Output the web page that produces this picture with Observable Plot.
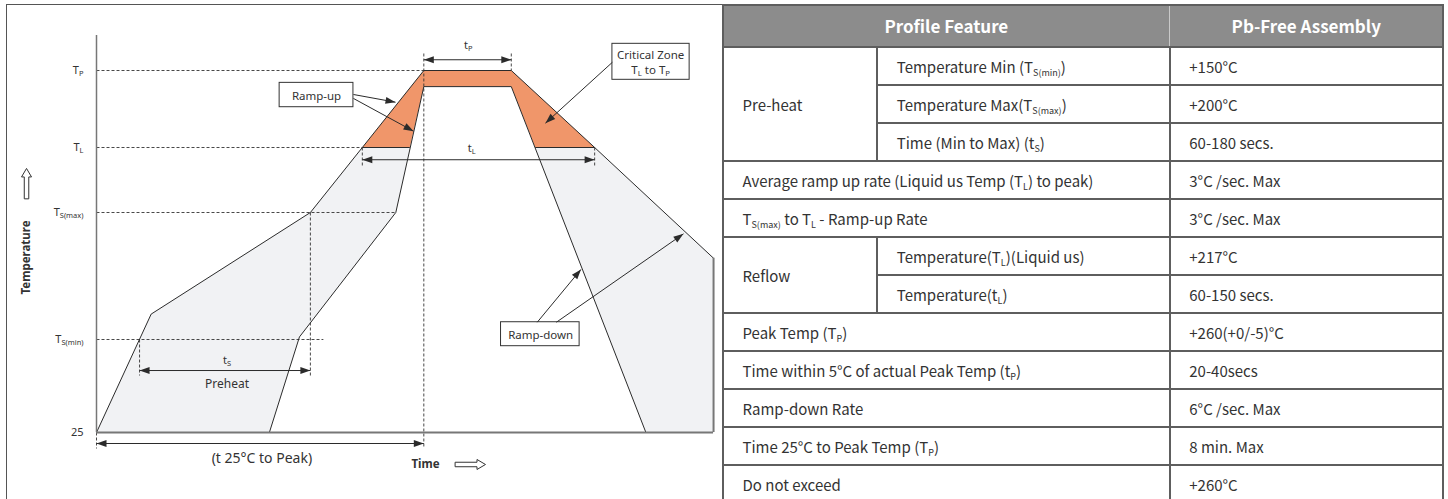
<!DOCTYPE html>
<html><head><meta charset="utf-8">
<script src="https://cdn.jsdelivr.net/npm/d3@7"></script>
<script src="https://cdn.jsdelivr.net/npm/@observablehq/plot@0.6"></script>
<style>
html,body{margin:0;padding:0;background:#fff;width:1448px;height:499px;overflow:hidden;position:relative;}
#frame{position:absolute;left:6px;top:4px;width:718px;height:500px;border-left:1.5px solid #555;border-top:1.5px solid #555;box-sizing:border-box;}
#chart{position:absolute;left:0;top:0;}
#tbl{position:absolute;left:722px;top:4px;display:grid;grid-template-columns:152.75px 291.5px 271.5px;grid-template-rows:40.75px repeat(12,36.5px);gap:1.5px;padding:1.5px;background:#5e5e5e;font-family:"Noto Sans CJK KR","Noto Sans",sans-serif;font-size:15px;color:#333;}
.c{background:#fff;display:flex;align-items:center;padding-left:19px;white-space:nowrap;}
.h{grid-column:1/4;background:#8c8c8c;display:flex;color:#fff;font-weight:700;font-size:17px;}
.h div{display:flex;align-items:center;justify-content:center;}
.h .h1{width:445.75px;}
.h .h2{flex:1;border-left:1.5px solid #c9c9c9;}
sub{font-size:9px;vertical-align:baseline;position:relative;top:3px;line-height:0;}
</style>
</head><body>
<div id="frame"></div>
<div id="chart"></div>
<div id="tbl"></div>
<script>
// ---------- diagram data (time in s, temperature in °C) ----------
const levelTemps = [25, 150, 200, 217, 260];
const levelLabels = ["25", "T_{S(min)}", "T_{S(max)}", "T_{L}", "T_{P}"];

const outerTime = [0, 80, 313, 389, 479, 607, 729, 903, 903];
const outerTemp = [25, 160, 200, 217, 260, 260, 217, 182, 25];
const innerTime = [253, 297, 438, 479, 607, 804];
const innerTemp = [25, 151, 200, 251, 251, 25];
const criticalTime = [389, 479, 607, 729, 642, 607, 479, 458.5];
const criticalTemp = [217, 260, 260, 217, 217, 251, 251, 217];

const dashes = [
  {x1: 0, y1: 260, x2: 479, y2: 260},
  {x1: 0, y1: 217, x2: 389, y2: 217},
  {x1: 0, y1: 200, x2: 438, y2: 200},
  {x1: 0, y1: 150, x2: 332, y2: 150},
  {x1: 313, y1: 200, x2: 313, y2: 101.6},
  {x1: 63, y1: 150, x2: 63, y2: 101.6},
  {x1: 479, y1: 269.5, x2: 479, y2: 3.5},
  {x1: 607, y1: 269.5, x2: 607, y2: 260},
  {x1: 389, y1: 217, x2: 389, y2: 212.3},
  {x1: 729, y1: 217, x2: 729, y2: 212.3},
  {x1: 0, y1: 25, x2: 0, y2: 3.5}
];

const arrows = [
  {x1: 376, y1: 246.6, x2: 437.6, y2: 242.3, both: false},
  {x1: 376, y1: 244.4, x2: 464, y2: 226.1, both: false},
  {x1: 755, y1: 264.6, x2: 657, y2: 230.6, both: false},
  {x1: 645, y1: 156.8, x2: 709, y2: 177.6, both: false},
  {x1: 673, y1: 156.8, x2: 859, y2: 191.6, both: false},
  {x1: 479, y1: 266, x2: 607, y2: 266, both: true},
  {x1: 389, y1: 213.8, x2: 729, y2: 213.8, both: true},
  {x1: 63, y1: 108.3, x2: 313, y2: 108.3, both: true},
  {x1: 0, y1: 10.2, x2: 479, y2: 10.2, both: true}
];

const boxes = [
  {x1: 268, x2: 376, y1: 239.5, y2: 253.1, tx: 322, ty: 246.3, label: "Ramp-up"},
  {x1: 755, x2: 868, y1: 254.8, y2: 274.9, tx: 811, ty: 264.9, label: "Critical Zone\nT_{L} to T_{P}"},
  {x1: 592, x2: 707, y1: 141, y2: 156.8, tx: 650, ty: 152.1, label: "Ramp-down"}
];

const labels = [
  {x: 544, y: 274, text: "t_{P}", size: 11},
  {x: 549, y: 216.7, text: "t_{L}", size: 11},
  {x: 191, y: 121.8, text: "t_{S}", size: 11},
  {x: 191, y: 89.5, text: "Preheat", size: 12},
  {x: 242, y: -10, text: "(t 25°C to Peak)", size: 14}
];
const boldLabels = [
  {x: 481.5, y: -18, text: "Time", rotate: 0},
  {x: -102.4, y: 182.3, text: "Temperature", rotate: -90}
];
const blockArrows = [
  {x: -102.4, y: 207.6, rotate: 0},
  {x: 547.3, y: -18, rotate: 90}
];

// ---------- table data ----------
const tableHeaders = ["Profile Feature", "Pb-Free Assembly"];
const tableGroups = ["Pre-heat", "Pre-heat", "Pre-heat", null, null, "Reflow", "Reflow", null, null, null, null, null];
const tableFeatures = [
  "Temperature Min (T_{S(min)})", "Temperature Max(T_{S(max)})", "Time (Min to Max) (t_{S})",
  "Average ramp up rate (Liquid us Temp (T_{L}) to peak)", "T_{S(max)} to T_{L} - Ramp-up Rate",
  "Temperature(T_{L})(Liquid us)", "Temperature(t_{L})", "Peak Temp (T_{P})",
  "Time within 5°C of actual Peak Temp (t_{P})", "Ramp-down Rate", "Time 25°C to Peak Temp (T_{P})", "Do not exceed"
];
const tableValues = [
  "+150°C", "+200°C", "60-180 secs.", "3°C /sec. Max", "3°C /sec. Max", "+217°C",
  "60-150 secs.", "+260(+0/-5)°C", "20-40secs", "6°C /sec. Max", "8 min. Max", "+260°C"
];

// ---------- scales ----------
const xDomain = [0, 480], xRange = [96, 424];
const yRange = [432, 339, 212, 147, 70];
const xs = d3.scaleLinear(xDomain, xRange);
const ys = d3.scaleLinear(levelTemps, yRange);

const pts = (ts, vs) => ts.map((t, i) => ({t, v: vs[i]}));
const heads = [];
for (const a of arrows) {
  const dx = xs(a.x2) - xs(a.x1), dy = ys(a.y2) - ys(a.y1);
  const ang = Math.atan2(dx, -dy) * 180 / Math.PI;
  heads.push({x: a.x2, y: a.y2, rotate: ang});
  if (a.both) heads.push({x: a.x1, y: a.y1, rotate: ang + 180});
}
const headShape = {draw(ctx, l, r) { ctx.moveTo(-r, 0); ctx.lineTo(0, -l); ctx.lineTo(r, 0); ctx.closePath(); }};
const blockShape = {draw(ctx, l, r) {
  const w = r * 0.45, hl = r * 1.7;
  ctx.moveTo(-w, 0); ctx.lineTo(-w, -(l - hl)); ctx.lineTo(-r, -(l - hl)); ctx.lineTo(0, -l);
  ctx.lineTo(r, -(l - hl)); ctx.lineTo(w, -(l - hl)); ctx.lineTo(w, 0); ctx.closePath();
}};
const criticalBase = [
  {x1: criticalTime[0], x2: criticalTime[7], y: criticalTemp[0]},
  {x1: criticalTime[4], x2: criticalTime[3], y: criticalTemp[3]}
];

const ink = "#2b2b2b";
const plot = Plot.plot({
  width: 723, height: 499,
  marginLeft: 96, marginTop: 0, marginRight: 0, marginBottom: 0,
  x: {type: "linear", domain: xDomain, range: xRange, axis: null},
  y: {type: "linear", domain: levelTemps, range: yRange},
  style: {background: "transparent", overflow: "visible", fontFamily: "'Noto Sans', sans-serif", color: "#333"},
  marks: [
    Plot.line(pts(outerTime, outerTemp), {x: "t", y: "v", fill: "#f1f2f4", stroke: "none"}),
    Plot.line(pts(innerTime, innerTemp), {x: "t", y: "v", fill: "#ffffff", stroke: "none"}),
    Plot.line(pts(criticalTime, criticalTemp), {x: "t", y: "v", fill: "#f0966a", stroke: "none"}),
    Plot.link(dashes, {x1: "x1", y1: "y1", x2: "x2", y2: "y2", stroke: "#333", strokeWidth: 0.9, strokeDasharray: "3,2"}),
    Plot.line(pts(outerTime.slice(0, 8), outerTemp.slice(0, 8)), {x: "t", y: "v", stroke: ink, strokeWidth: 1}),
    Plot.line(pts(innerTime, innerTemp), {x: "t", y: "v", stroke: ink, strokeWidth: 1}),
    Plot.link(criticalBase, {x1: "x1", x2: "x2", y1: "y", y2: "y", stroke: ink, strokeWidth: 1}),
    Plot.ruleX([0], {y1: 25, y2: 279.5, stroke: "#777", strokeWidth: 1.5}),
    Plot.ruleY([25], {x1: 0, x2: 903, stroke: "#777", strokeWidth: 2}),
    Plot.ruleX([903], {y1: 25, y2: 182, stroke: "#777", strokeWidth: 2}),
    Plot.rect(boxes, {x1: "x1", x2: "x2", y1: "y1", y2: "y2", fill: "#fff", stroke: "#333", strokeWidth: 1}),
    Plot.text(boxes, {x: "tx", y: "ty", text: "label", fontSize: 11.5, lineHeight: 1.25, fill: "#333"}),
    Plot.link(arrows, {x1: "x1", y1: "y1", x2: "x2", y2: "y2", stroke: ink, strokeWidth: 1}),
    Plot.vector(heads, {x: "x", y: "y", rotate: "rotate", length: 10, r: 3.5, anchor: "end", shape: headShape, fill: ink, stroke: "none"}),
    Plot.text(labels, {x: "x", y: "y", text: "text", fontSize: "size", fill: "#333"}),
    Plot.text(boldLabels, {x: "x", y: "y", text: "text", rotate: "rotate", fontSize: 11.5, fontWeight: 700, fill: "#333"}),
    Plot.vector(blockArrows, {x: "x", y: "y", rotate: "rotate", length: 30, r: 5, anchor: "middle", shape: blockShape, fill: "#fff", stroke: "#333", strokeWidth: 1}),
    Plot.axisY(levelTemps, {anchor: "left", tickSize: 0, tickPadding: 13, fontSize: 11, label: null,
      tickFormat: d => levelLabels[levelTemps.indexOf(d)]})
  ]
});
document.getElementById("chart").appendChild(plot);

// subscripts in SVG text
function applySubs(root) {
  const ns = "http://www.w3.org/2000/svg";
  const walker = document.createTreeWalker(root, NodeFilter.SHOW_TEXT);
  const nodes = [];
  while (walker.nextNode()) if (walker.currentNode.nodeValue.includes("_{")) nodes.push(walker.currentNode);
  for (const node of nodes) {
    const frag = document.createDocumentFragment();
    for (const p of node.nodeValue.split(/(_\{[^}]*\})/)) {
      if (!p) continue;
      const m = p.match(/^_\{(.*)\}$/);
      if (m) {
        const ts = document.createElementNS(ns, "tspan");
        ts.setAttribute("font-size", "0.68em");
        ts.setAttribute("baseline-shift", "-2");
        ts.textContent = m[1];
        frag.appendChild(ts);
      } else frag.appendChild(document.createTextNode(p));
    }
    node.parentNode.replaceChild(frag, node);
  }
}
applySubs(plot);

// table
const html = s => `<span>${s.replace(/_\{([^}]*)\}/g, "<sub>$1</sub>")}</span>`;
const tbl = document.getElementById("tbl");
let out = `<div class="h"><div class="h1">${tableHeaders[0]}</div><div class="h2">${tableHeaders[1]}</div></div>`;
for (let i = 0; i < tableFeatures.length; i++) {
  const row = i + 2;
  const g = tableGroups[i];
  if (g) {
    if (i === 0 || tableGroups[i - 1] !== g) {
      let n = 0; while (tableGroups[i + n] === g) n++;
      out += `<div class="c" style="grid-column:1;grid-row:${row}/span ${n}">${html(g)}</div>`;
    }
    out += `<div class="c" style="grid-column:2;grid-row:${row}">${html(tableFeatures[i])}</div>`;
  } else {
    out += `<div class="c" style="grid-column:1/3;grid-row:${row}">${html(tableFeatures[i])}</div>`;
  }
  out += `<div class="c" style="grid-column:3;grid-row:${row};padding-left:18.5px">${html(tableValues[i])}</div>`;
}
tbl.innerHTML = out;
</script>
</body></html>
